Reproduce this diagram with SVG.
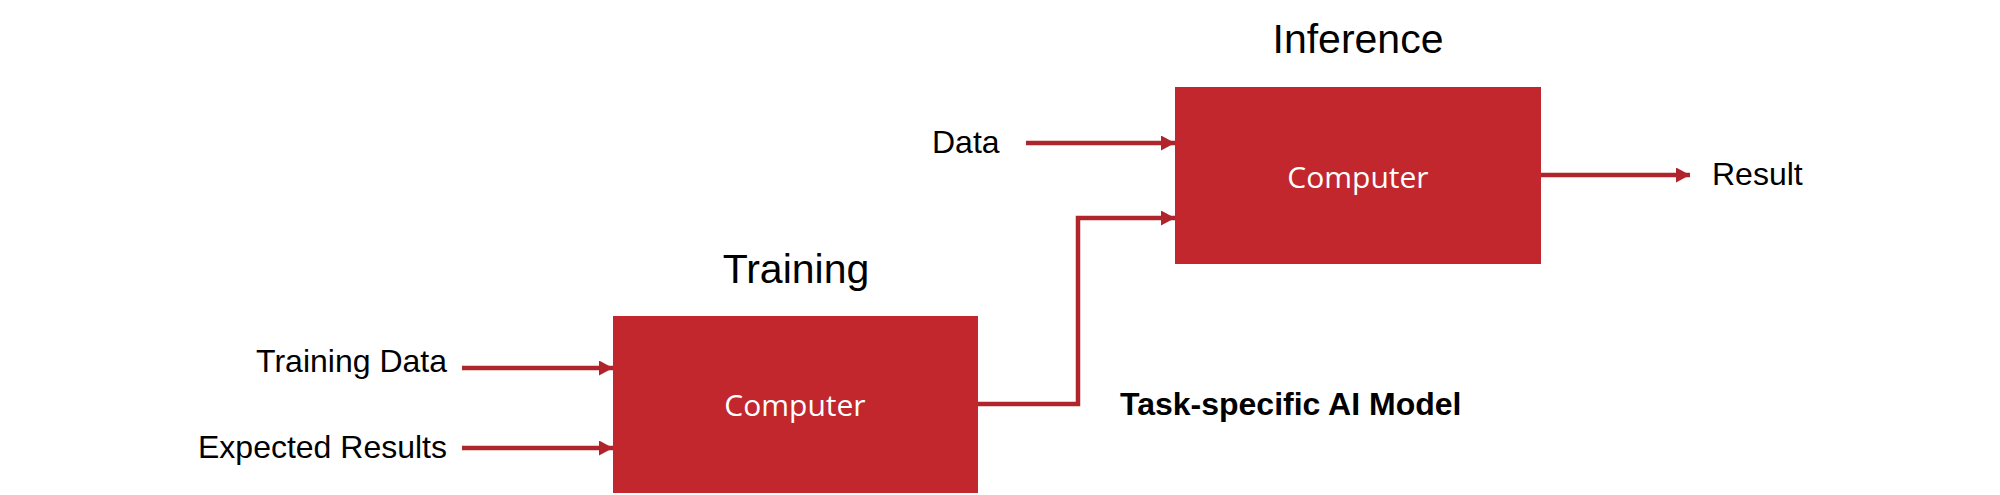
<svg xmlns="http://www.w3.org/2000/svg" width="2000" height="495" viewBox="0 0 2000 495">
<defs>
<marker id="arr" markerWidth="14" markerHeight="15" refX="14" refY="7.5" orient="auto" markerUnits="userSpaceOnUse">
<path d="M0,0 L14,7.5 L0,15 Z" fill="#B0252B"/>
</marker>
<style>
.box{fill:#C1272D;}
.lbl{font-family:"Liberation Sans",Arial,sans-serif;font-size:32px;fill:#000;}
.ttl{font-family:"Liberation Sans",Arial,sans-serif;font-size:41px;fill:#000;text-anchor:middle;}
.cmp{font-family:"Open Sans","Noto Sans",sans-serif;font-size:30px;fill:#fff;text-anchor:middle;}
.con{fill:none;stroke:#B0252B;stroke-width:4.5;}
.bold{font-family:"Liberation Sans",Arial,sans-serif;font-size:32px;font-weight:bold;fill:#000;}
</style>
</defs>
<rect width="2000" height="495" fill="#fff"/>
<g id="training">
<text class="ttl" x="796" y="283">Training</text>
<rect class="box" x="613" y="316" width="365" height="177"/>
<text class="cmp" x="795" y="416">Computer</text>
</g>
<g id="inference">
<text class="ttl" x="1358" y="53">Inference</text>
<rect class="box" x="1175" y="87" width="366" height="177"/>
<text class="cmp" x="1358" y="188">Computer</text>
</g>
<g id="labels">
<text class="lbl" x="447" y="372" text-anchor="end">Training Data</text>
<text class="lbl" x="447" y="458" text-anchor="end">Expected Results</text>
<text class="lbl" x="932" y="153">Data</text>
<text class="lbl" x="1712" y="185">Result</text>
<text class="bold" x="1120" y="415">Task-specific AI Model</text>
</g>
<g id="connectors">
<line class="con" x1="462" y1="368" x2="613" y2="368" marker-end="url(#arr)"/>
<line class="con" x1="462" y1="448" x2="613" y2="448" marker-end="url(#arr)"/>
<line class="con" x1="1026" y1="143" x2="1175" y2="143" marker-end="url(#arr)"/>
<polyline class="con" points="978,404 1078,404 1078,218 1175,218" marker-end="url(#arr)"/>
<line class="con" x1="1541" y1="175" x2="1690" y2="175" marker-end="url(#arr)"/>
</g>
</svg>
